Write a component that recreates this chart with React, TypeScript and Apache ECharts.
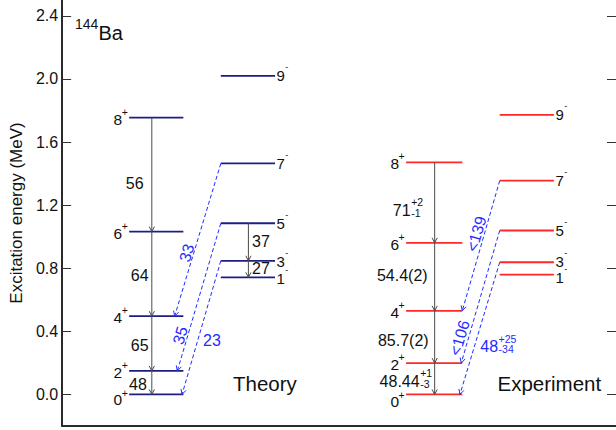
import React, { useEffect, useRef } from "react";
import * as echarts from "echarts";

// ---------------- data ----------------
const Y_TICKS = [0, 0.4, 0.8, 1.2, 1.6, 2.0, 2.4];
const GSB_SPINS = ["0", "2", "4", "6", "8"];
const NEG_SPINS = ["1", "3", "5", "7", "9"];
// excitation energies (MeV)
const THEORY_GSB_E = [0, 0.149, 0.496, 1.032, 1.754];
const THEORY_NEG_E = [0.742, 0.847, 1.085, 1.464, 2.019];
const EXP_GSB_E = [0, 0.199, 0.53, 0.961, 1.471];
const EXP_NEG_E = [0.759, 0.838, 1.039, 1.355, 1.772];
// B(E2) within ground band: 2->0, 4->2, 6->4, 8->6
const THEORY_GSB_BE2 = ["48", "65", "64", "56"];
const EXP_GSB_BE2 = ["48.44", "85.7(2)", "54.4(2)", "71"];
const EXP_GSB_BE2_UP = ["+1", "", "", "+2"];
const EXP_GSB_BE2_DN = ["-3", "", "", "-1"];
// negative-parity band: 3->1, 5->3
const THEORY_NEG_BE2 = ["27", "37"];
// E3: 3- -> 0+, 5- -> 2+, 7- -> 4+
const THEORY_BE3 = ["23", "35", "33"];
const EXP_BE3 = ["48", "<106", "<139"];
const EXP_BE3_UP = ["+25", "", ""];
const EXP_BE3_DN = ["-34", "", ""];

// ---------------- layout / style ----------------
const FONT = "'Liberation Sans', Arial, Helvetica, sans-serif";
const TH_COLOR = "#1e1e82";
const EX_COLOR = "#ff2828";
const GRAY = "#4a4a4a";
const BLUE = "#1f2cff";
const TXT = "#111111";
const X_MAX = 562;
const COL_TH_GSB = [68, 123];
const COL_TH_NEG = [161, 216];
const COL_EX_GSB = [349, 406];
const COL_EX_NEG = [444, 499];
const AX_TH_GSB = 91;
const AX_TH_NEG = 189;
const AX_EX_GSB = 378;
// [pixel dx from arrow, fraction between levels]
const LBL_TH_GSB = [[-5, 0.56], [-3.3, 0.53], [-3.3, 0.52], [-8.3, 0.58]];
const LBL_TH_NEG = [[3.7, 0.46], [3.7, 0.49]];
const LBL_EX_GSB = [[-15, 0.6], [-6, 0.56], [-7, 0.48], [-24, 0.6]];
// E3 arrow tip insets (px) and label placement [t, dx, rotated]
const INSET_TH = [1.3, 6, 8.7];
const INSET_EX = [2.3, 1, 0];
const LBL_TH_E3 = [[0.6, 14.4, 0], [0.76, -7.6, 1], [0.585, -7, 1]];
const LBL_EX_E3 = [[0.64, 6, 0], [0.81, -9, 1], [0.41, -8, 1]];

function renderScheme(_params: any, api: any) {
  const els: any[] = [];
  const pt = (x: number, e: number) => api.coord([x, e]) as number[];
  const line = (a: number[], b: number[], stroke: string, lw: number, dash?: number[]) =>
    els.push({
      type: "line",
      shape: { x1: a[0], y1: a[1], x2: b[0], y2: b[1] },
      style: { stroke, lineWidth: lw, lineDash: dash || null, fill: null },
    });
  const chevron = (tip: number[], from: number[], color: string) => {
    const dx = tip[0] - from[0];
    const dy = tip[1] - from[1];
    const L = Math.hypot(dx, dy) || 1;
    const ux = dx / L, uy = dy / L;
    const bx = tip[0] - ux * 5, by = tip[1] - uy * 5;
    const px = -uy * 2.6, py = ux * 2.6;
    els.push({
      type: "polyline",
      shape: { points: [[bx + px, by + py], [tip[0], tip[1]], [bx - px, by - py]] },
      style: { stroke: color, lineWidth: 1, fill: null },
    });
  };
  const text = (x: number, y: number, s: string, size: number, fill: string, align: string, rotation = 0) =>
    els.push({
      type: "text",
      x,
      y,
      rotation,
      style: {
        text: s,
        fill,
        fontSize: size,
        fontFamily: FONT,
        align,
        textAlign: align,
        verticalAlign: "middle",
        textVerticalAlign: "middle",
      },
    });

  // levels
  const band = (
    energies: number[],
    spins: string[],
    parity: string,
    col: number[],
    color: string,
    left: boolean,
    firstDy: number,
    secondDy: number
  ) => {
    energies.forEach((e, i) => {
      const a = pt(col[0], e);
      const b = pt(col[1], e);
      line(a, b, color, 1.8);
      if (left) {
        const dy = i === 0 ? firstDy : 1.5;
        text(a[0] - 7, a[1] + dy, spins[i], 15.5, TXT, "right");
        text(a[0] - 7.5, a[1] + dy - (i === 0 ? 6.5 : 7.5), parity, 10.5, TXT, "left");
      } else {
        const dy = i === 0 ? firstDy : i === 1 ? secondDy : 0;
        text(b[0] + 1.5, b[1] + dy, spins[i], 15, TXT, "left");
        text(b[0] + 10.3, b[1] + dy - 8.5, parity, 9, TXT, "left");
      }
    });
  };
  band(THEORY_GSB_E, GSB_SPINS, "+", COL_TH_GSB, TH_COLOR, true, 5, 0);
  band(THEORY_NEG_E, NEG_SPINS, "-", COL_TH_NEG, TH_COLOR, false, 1.5, 0.5);
  band(EXP_GSB_E, GSB_SPINS, "+", COL_EX_GSB, EX_COLOR, true, 7.5, 0);
  band(EXP_NEG_E, NEG_SPINS, "-", COL_EX_NEG, EX_COLOR, false, 3, -0.8);

  // in-band E2 cascades
  const cascade = (
    energies: number[],
    x: number,
    labels: string[],
    layout: number[][],
    alignRight: boolean,
    ups?: string[],
    dns?: string[]
  ) => {
    labels.forEach((lab, i) => {
      const lo = pt(x, energies[i]);
      const hi = pt(x, energies[i + 1]);
      line(hi, lo, GRAY, 1);
      chevron(lo, hi, GRAY);
      const [dx, f] = layout[i];
      const y = hi[1] + (lo[1] - hi[1]) * f;
      const lx = lo[0] + dx;
      text(lx, y, lab, 16, TXT, alignRight ? "right" : "left");
      if (ups && ups[i]) {
        text(lx + 0.5, y - 8.5, ups[i], 10.5, TXT, "left");
        text(lx + 0.5, y + 2.5, dns ? dns[i] : "", 10.5, TXT, "left");
      }
    });
  };
  cascade(THEORY_GSB_E, AX_TH_GSB, THEORY_GSB_BE2, LBL_TH_GSB, true);
  cascade(THEORY_NEG_E, AX_TH_NEG, THEORY_NEG_BE2, LBL_TH_NEG, false);
  cascade(EXP_GSB_E, AX_EX_GSB, EXP_GSB_BE2, LBL_EX_GSB, true, EXP_GSB_BE2_UP, EXP_GSB_BE2_DN);

  // E3 interband dashed arrows
  const e3 = (
    negE: number[],
    gsbE: number[],
    negCol: number[],
    gsbCol: number[],
    labels: string[],
    insets: number[],
    layout: number[][],
    ups?: string[],
    dns?: string[]
  ) => {
    labels.forEach((lab, i) => {
      const s = pt(negCol[0], negE[i + 1]);
      const t0 = pt(gsbCol[1], gsbE[i]);
      const t = [t0[0] - insets[i], t0[1]];
      line(s, t, BLUE, 1, [4, 2.5]);
      chevron(t, s, BLUE);
      const [frac, dx, rot] = layout[i];
      const cx = s[0] + (t[0] - s[0]) * frac + dx;
      const cy = s[1] + (t[1] - s[1]) * frac;
      if (rot) {
        const ang = Math.atan2(t[1] - s[1], s[0] - t[0]);
        text(cx, cy, lab, 16, BLUE, "center", ang);
      } else if (ups && ups[i]) {
        text(cx, cy, lab, 16, BLUE, "left");
        const w = 17.8;
        text(cx + w + 0.5, cy - 8, ups[i], 10.5, BLUE, "left");
        text(cx + w + 0.5, cy + 2.5, dns ? dns[i] : "", 10.5, BLUE, "left");
      } else {
        text(cx, cy, lab, 16, BLUE, "center");
      }
    });
  };
  e3(THEORY_NEG_E, THEORY_GSB_E, COL_TH_NEG, COL_TH_GSB, THEORY_BE3, INSET_TH, LBL_TH_E3);
  e3(EXP_NEG_E, EXP_GSB_E, COL_EX_NEG, COL_EX_GSB, EXP_BE3, INSET_EX, LBL_EX_E3, EXP_BE3_UP, EXP_BE3_DN);

  return { type: "group", children: els };
}

const tick = { show: true, inside: true, length: 9, customValues: Y_TICKS, lineStyle: { color: "#333", width: 1 } };

const gText = (x: number, y: number, s: string, size: number) => ({
  type: "text",
  x,
  y,
  silent: true,
  style: {
    text: s,
    fill: TXT,
    fontSize: size,
    fontFamily: FONT,
    align: "left",
    textAlign: "left",
    verticalAlign: "middle",
    textVerticalAlign: "middle",
  },
});

const option: any = {
  animation: false,
  backgroundColor: "#ffffff",
  grid: { left: 54, right: 0, top: -2, bottom: 4, containLabel: false },
  xAxis: {
    type: "value",
    min: 0,
    max: X_MAX,
    axisLine: { show: true, onZero: false, lineStyle: { color: "#2a2a2a", width: 2 } },
    axisTick: { show: false },
    axisLabel: { show: false },
    splitLine: { show: false },
  },
  yAxis: [
    {
      type: "value",
      min: -0.2,
      max: 2.5,
      position: "left",
      name: "Excitation energy (MeV)",
      nameLocation: "middle",
      nameGap: 30,
      nameRotate: 90,
      nameTextStyle: { fontSize: 17, color: TXT, fontFamily: FONT },
      axisLine: { show: true, onZero: false, lineStyle: { color: "#2a2a2a", width: 2 } },
      axisTick: tick,
      axisLabel: {
        show: true,
        customValues: Y_TICKS,
        formatter: (v: number) => v.toFixed(1),
        fontSize: 16,
        color: TXT,
        fontFamily: FONT,
        margin: 4,
      },
      splitLine: { show: false },
    },
    {
      type: "value",
      min: -0.2,
      max: 2.5,
      position: "right",
      axisLine: { show: false, onZero: false },
      axisTick: tick,
      axisLabel: { show: false },
      splitLine: { show: false },
    },
  ],
  series: [
    {
      type: "custom",
      coordinateSystem: "cartesian2d",
      xAxisIndex: 0,
      yAxisIndex: 0,
      data: [[0, 0]],
      renderItem: renderScheme,
      silent: true,
      clip: false,
    },
  ],
  graphic: [
    gText(233, 383, "Theory", 20.5),
    gText(497.5, 383, "Experiment", 20.5),
    gText(75, 24, "144", 14),
    gText(98.5, 33, "Ba", 20),
  ],
};

export default function App() {
  const ref = useRef<HTMLDivElement>(null);
  useEffect(() => {
    const chart = echarts.init(ref.current!, undefined, { renderer: "svg" });
    chart.setOption(option);
    return () => chart.dispose();
  }, []);
  return (
    <div
      ref={ref}
      style={{ position: "fixed", left: 0, top: 0, width: 616, height: 430, background: "#fff" }}
    />
  );
}
